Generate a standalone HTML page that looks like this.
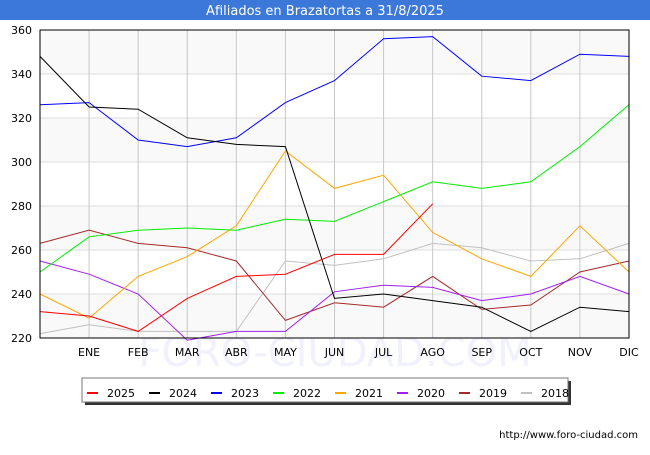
<!DOCTYPE html>
<html><head><meta charset="utf-8"><style>
body{margin:0;background:#fff;font-family:"Liberation Sans","DejaVu Sans",sans-serif}
</style></head><body>
<svg id="chart" width="650" height="450" xmlns="http://www.w3.org/2000/svg">
<rect x="0" y="0" width="650" height="20" fill="#3b78d8"/>
<text x="325" y="15" text-anchor="middle" font-size="13" fill="#fff" font-family="DejaVu Sans, sans-serif">Afiliados en Brazatortas a 31/8/2025</text>
<text x="335" y="366" text-anchor="middle" font-size="40" fill="#f0f1fb" font-family="DejaVu Sans, sans-serif">FORO-CIUDAD.COM</text>
<g id="plot"></g>
<text x="638" y="438" text-anchor="end" font-size="10" fill="#000" font-family="DejaVu Sans, sans-serif">http://www.foro-ciudad.com</text>
</svg>
<script>
const months=["","ENE","FEB","MAR","ABR","MAY","JUN","JUL","AGO","SEP","OCT","NOV","DIC"];
const yTicks=[220,240,260,280,300,320,340,360];
const seriesNames=["2025","2024","2023","2022","2021","2020","2019","2018"];
const seriesColors=["#ff0000","#000000","#0000ff","#00ee00","#ffa500","#a020f0","#a52a2a","#c0c0c0"];
const s2025=[232,230,223,238,248,249,258,258,281];
const s2024=[348,325,324,311,308,307,238,240,237,234,223,234,232];
const s2023=[326,327,310,307,311,327,337,356,357,339,337,349,348];
const s2022=[250,266,269,270,269,274,273,282,291,288,291,307,326];
const s2021=[240,229,248,257,271,305,288,294,268,256,248,271,250];
const s2020=[255,249,240,219,223,223,241,244,243,237,240,248,240];
const s2019=[263,269,263,261,255,228,236,234,248,233,235,250,255];
const s2018=[222,226,223,223,223,255,253,256,263,261,255,256,263];
const allSeries=[s2025,s2024,s2023,s2022,s2021,s2020,s2019,s2018];

const NS="http://www.w3.org/2000/svg";
const X0=40,X1=629,Y0=338,Y1=30,VMIN=220,VMAX=360;
const xs=i=>X0+i*(X1-X0)/12;
const ys=v=>Y0-(v-VMIN)*(Y0-Y1)/(VMAX-VMIN);
const g=document.getElementById('plot');
function mk(t,a){const e=document.createElementNS(NS,t);for(const k in a)e.setAttribute(k,a[k]);g.appendChild(e);return e;}
for(let i=0;i<yTicks.length-1;i++){
  const r=mk('rect',{x:X0,y:ys(yTicks[i+1]),width:X1-X0,height:ys(yTicks[i])-ys(yTicks[i+1]),fill:(i%2==0)?'#f8f8f8':'#ffffff','fill-opacity':0.85});
  
  
}
yTicks.forEach(v=>{
  const l=mk('line',{x1:X0,x2:X1,y1:ys(v),y2:ys(v),stroke:'#dddddd','stroke-width':1});
  
  
  const t=mk('text',{x:X0-8,y:ys(v)+4,'text-anchor':'end','font-size':11,'font-family':'DejaVu Sans, sans-serif'});
  t.textContent=v;
  
  
});
months.forEach((m,i)=>{
  if(i>0){
    const l=mk('line',{x1:xs(i),x2:xs(i),y1:Y1,y2:Y0,stroke:'#c8c8c8','stroke-width':1});
    
    
  }
  const t=mk('text',{x:xs(i),y:356,'text-anchor':'middle','font-size':11,'font-family':'DejaVu Sans, sans-serif'});
  t.textContent=m;
  
  
});
for(let k=allSeries.length-1;k>=0;k--){
  const pts=allSeries[k].map((v,i)=>xs(i)+','+ys(v)).join(' ');
  const p=mk('polyline',{points:pts,fill:'none',stroke:seriesColors[k],'stroke-width':1});
  
  
}
const fr=mk('rect',{x:X0,y:Y1,width:X1-X0,height:Y0-Y1,fill:'none',stroke:'#000','stroke-width':1});


const sh=mk('rect',{x:85,y:381,width:486,height:24,fill:'#333'});


const lb=mk('rect',{x:82,y:378,width:486,height:24,fill:'#fff',stroke:'#777','stroke-width':1});


seriesNames.forEach((n,k)=>{
  const x=87+k*62;
  const l=mk('line',{x1:x,x2:x+11,y1:393,y2:393,stroke:seriesColors[k],'stroke-width':2});
  
  
  const t=mk('text',{x:x+20,y:397,'font-size':11,'font-family':'DejaVu Sans, sans-serif'});
  t.textContent=n;
  
  
});
</script>
</body></html>
